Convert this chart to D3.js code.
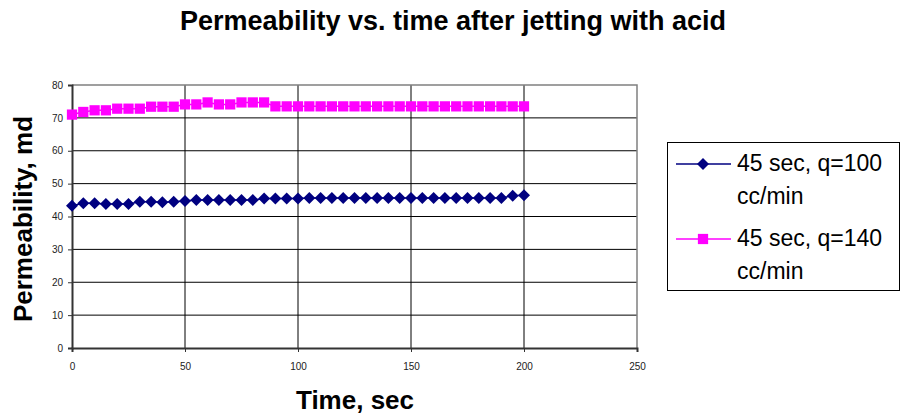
<!DOCTYPE html>
<html><head><meta charset="utf-8">
<script src="https://cdn.jsdelivr.net/npm/d3@7"></script>
<style>
body{margin:0;background:#fff;}
text{font-family:"Liberation Sans",Arial,sans-serif;}
</style></head>
<body><svg id="c" width="910" height="418"></svg>
<script>
const times = d3.range(0, 201, 5);
const seriesNames = ["45 sec, q=100 cc/min", "45 sec, q=140 cc/min"];
const legendLines = [["45 sec, q=100", "cc/min"], ["45 sec, q=140", "cc/min"]];
const q100 = [43.3,44.0,44.0,43.8,43.8,43.8,44.5,44.5,44.3,44.5,44.7,45.0,45.0,45.0,45.0,45.0,45.0,45.5,45.5,45.5,45.5,45.6,45.6,45.6,45.6,45.6,45.6,45.6,45.6,45.6,45.6,45.6,45.6,45.6,45.6,45.6,45.6,45.6,45.6,46.3,46.5];
const q140 = [71.0,71.8,72.3,72.3,72.8,72.8,72.8,73.4,73.4,73.4,74.1,74.1,74.7,74.1,74.1,74.7,74.7,74.7,73.5,73.5,73.5,73.5,73.5,73.5,73.5,73.5,73.5,73.5,73.5,73.5,73.5,73.5,73.5,73.5,73.5,73.5,73.5,73.5,73.5,73.5,73.5];
const xTicks = [0,50,100,150,200,250];
const yTicks = [0,10,20,30,40,50,60,70,80];
const colors = ["#000080", "#FF00FF"];

const svg = d3.select("#c");
const L=72, R=637, T=85, B=348;
const x = d3.scaleLinear().domain([0,250]).range([L,R]);
const y = d3.scaleLinear().domain([0,80]).range([B,T]);

// title
svg.append("text").attr("x",453).attr("y",30).attr("text-anchor","middle")
  .style("font-size","27px").style("font-weight","bold").text("Permeability vs. time after jetting with acid");

// gridlines
svg.append("g").selectAll("line").data(yTicks.slice(1,-1)).join("line")
  .attr("x1",L).attr("x2",R).attr("y1",d=>y(d)).attr("y2",d=>y(d)).attr("stroke","#000").attr("stroke-width",1);
svg.append("g").selectAll("line").data(xTicks.slice(1,-1)).join("line")
  .attr("y1",T).attr("y2",B).attr("x1",d=>x(d)).attr("x2",d=>x(d)).attr("stroke","#000").attr("stroke-width",1);
// top/right border
svg.append("path").attr("d",`M${L},${T}H${R}V${B}`).attr("fill","none").attr("stroke","#808080").attr("stroke-width",1.5);

// axes
const xa = svg.append("g").attr("transform",`translate(0,${B})`)
  .call(d3.axisBottom(x).tickValues(xTicks).tickSize(4).tickPadding(11));
const ya = svg.append("g").attr("transform",`translate(${L},0)`)
  .call(d3.axisLeft(y).tickValues(yTicks).tickSize(4).tickPadding(5));
[xa,ya].forEach(a=>{
  a.select(".domain").attr("stroke","#333").attr("stroke-width",2);
  a.selectAll(".tick line").attr("stroke","#333");
  a.selectAll("text").style("font-size","10px").attr("fill","#222").style("font-family","'Liberation Sans',Arial,sans-serif");
});

// axis titles
svg.append("text").attr("x",355).attr("y",409).attr("text-anchor","middle")
  .style("font-size","26px").style("font-weight","bold").text("Time, sec");
svg.append("text").attr("transform","translate(32,219) rotate(-90)").attr("text-anchor","middle")
  .style("font-size","26px").style("font-weight","bold").text("Permeability, md");

// series
const data = [q100, q140];
const line = d3.line().x((d,i)=>x(times[i])).y(d=>y(d));
const diamond = "M0,-6L6,0L0,6L-6,0Z";
const square = d3.symbol().type(d3.symbolSquare).size(105)();
data.forEach((vals,k)=>{
  svg.append("path").datum(vals).attr("d",line).attr("fill","none").attr("stroke",colors[k]).attr("stroke-width",1.5);
  svg.append("g").selectAll("path").data(vals).join("path")
    .attr("transform",(d,i)=>`translate(${x(times[i])},${y(d)})`)
    .attr("d", k===0 ? diamond : square)
    .attr("fill",colors[k]);
});

// legend
const lg = svg.append("g");
lg.append("rect").attr("x",667.5).attr("y",142.5).attr("width",232).attr("height",148)
  .attr("fill","#fff").attr("stroke","#000").attr("stroke-width",1);
const ly = [164, 239];
legendLines.forEach((lines,k)=>{
  lg.append("line").attr("x1",676).attr("x2",731).attr("y1",ly[k]).attr("y2",ly[k]).attr("stroke",colors[k]).attr("stroke-width",1.5);
  lg.append("path").attr("transform",`translate(703,${ly[k]})`)
    .attr("d", k===0 ? diamond : square)
    .attr("fill",colors[k]);
  lines.forEach((t,j)=>{
    lg.append("text").attr("x",737).attr("y",ly[k]+7+j*33).style("font-size","23px").attr("fill","#000").text(t);
  });
});
</script></body></html>
